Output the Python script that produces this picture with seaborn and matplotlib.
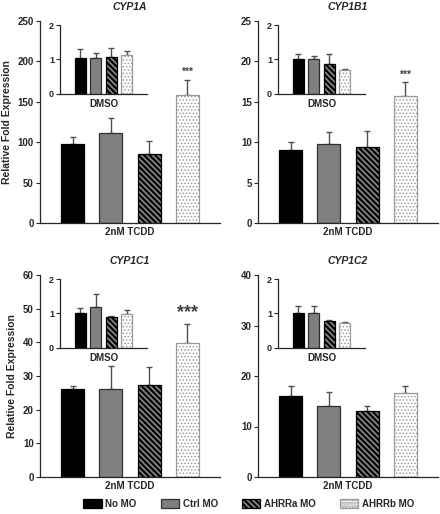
import matplotlib
matplotlib.use('Agg')
import matplotlib.pyplot as plt
from matplotlib.patches import Patch
import numpy as np
import pandas as pd
import seaborn as sns

sns.set_style('ticks')
plt.rcParams['font.family'] = ['Liberation Sans', 'DejaVu Sans']
plt.rcParams['font.weight'] = 'bold'
plt.rcParams['hatch.linewidth'] = 1.6

groups = ['No MO', 'Ctrl MO', 'AHRRa MO', 'AHRRb MO']
genes = ['CYP1A', 'CYP1B1', 'CYP1C1', 'CYP1C2']

# 2nM TCDD, mean and upper error
tcdd_cyp1a = [98, 111, 85, 158]
tcdd_cyp1a_err = [9, 19, 16, 19]
tcdd_cyp1b1 = [9.0, 9.8, 9.45, 15.7]
tcdd_cyp1b1_err = [1.0, 1.5, 1.95, 1.7]
tcdd_cyp1c1 = [26.2, 26.0, 27.2, 39.9]
tcdd_cyp1c1_err = [0.7, 7.1, 5.6, 5.5]
tcdd_cyp1c2 = [16.1, 14.0, 13.0, 16.6]
tcdd_cyp1c2_err = [2.0, 2.8, 1.1, 1.5]

# DMSO
dmso_cyp1a = [1.03, 1.03, 1.08, 1.12]
dmso_cyp1a_err = [0.27, 0.15, 0.24, 0.11]
dmso_cyp1b1 = [1.0, 1.0, 0.87, 0.69]
dmso_cyp1b1_err = [0.15, 0.09, 0.28, 0.04]
dmso_cyp1c1 = [1.02, 1.19, 0.89, 0.99]
dmso_cyp1c1_err = [0.15, 0.37, 0.04, 0.10]
dmso_cyp1c2 = [1.0, 1.0, 0.79, 0.71]
dmso_cyp1c2_err = [0.22, 0.21, 0.02, 0.05]

ymax = [250, 25, 60, 40]
ystep = [50, 5, 10, 10]
stars = ['***', '***', '***', '']
star_size = [7.5, 7.5, 13, 7]

tcdd = [tcdd_cyp1a, tcdd_cyp1b1, tcdd_cyp1c1, tcdd_cyp1c2]
tcdd_err = [tcdd_cyp1a_err, tcdd_cyp1b1_err, tcdd_cyp1c1_err, tcdd_cyp1c2_err]
dmso = [dmso_cyp1a, dmso_cyp1b1, dmso_cyp1c1, dmso_cyp1c2]
dmso_err = [dmso_cyp1a_err, dmso_cyp1b1_err, dmso_cyp1c1_err, dmso_cyp1c2_err]

faces = ['black', '#808080', '#8a8a8a', 'white']
edges = ['black', '#303030', 'black', '#9a9a9a']
hatches = ['', '', '\\\\\\\\\\\\', '.....']
hatch_lw = [1, 1, 1.6, 0.7]
err_col = '#505050'


def style_patch(p, ec, h, hlw):
    p.set_edgecolor(ec)
    p.set_linewidth(0.9)
    p.set_hatch(h)
    if hasattr(p, 'set_hatch_linewidth'):
        p.set_hatch_linewidth(hlw)


def draw_bars(ax, vals, errs, width, fs):
    d = pd.DataFrame({'group': groups, 'val': vals})
    sns.barplot(data=d, x='group', y='val', hue='group', palette=faces,
                width=width, legend=False, ax=ax, saturation=1)
    for p, ec, h, hl in zip(ax.patches, edges, hatches, hatch_lw):
        style_patch(p, ec, h, hl)
    ax.errorbar(range(4), vals, yerr=[np.zeros(4), errs], fmt='none',
                ecolor=err_col, elinewidth=1, capsize=2, capthick=1, zorder=0.5)
    sns.despine(ax=ax)
    ax.tick_params(axis='x', length=0)
    ax.set_xticks([])
    ax.tick_params(axis='y', length=3, width=0.8, labelsize=fs, pad=1.5)
    for s in ['left', 'bottom']:
        ax.spines[s].set_linewidth(0.9)
    ax.set_ylabel('')


fig = plt.figure(figsize=(4.4, 5.14), dpi=100)
W, H = 440, 514
boxes = [(40, 21), (258, 21), (40, 275), (258, 275)]

for i, g in enumerate(genes):
    x0, y0 = boxes[i]
    ax = fig.add_axes([x0 / W, 1 - (y0 + 202) / H, 180 / W, 202 / H])
    draw_bars(ax, tcdd[i], tcdd_err[i], 0.6, 7)
    ax.set_xlim(-0.85, 3.85)
    ax.set_ylim(0, ymax[i])
    ax.set_yticks(np.arange(0, ymax[i] + 1, ystep[i]))
    ax.set_xlabel('2nM TCDD', fontsize=7, fontweight='bold', labelpad=3)
    ax.set_title(g, fontsize=7.5, fontweight='bold', style='italic', pad=8)
    if i % 2 == 0:
        ax.set_ylabel('Relative Fold Expression', fontsize=7.5, fontweight='bold', labelpad=4)
    if stars[i]:
        top = tcdd[i][3] + tcdd_err[i][3]
        ax.text(3, top + ymax[i] * 0.015, stars[i], ha='center', va='bottom',
                fontsize=star_size[i], color='#404040')

    ins = ax.inset_axes([0.113, 0.64, 0.48, 0.34])
    draw_bars(ins, dmso[i], dmso_err[i], 0.72, 6.5)
    ins.set_xlim(-1.3, 4.3)
    ins.set_ylim(0, 2)
    ins.set_yticks([0, 1, 2])
    ins.set_xlabel('DMSO', fontsize=7, fontweight='bold', labelpad=4)
    ins.patch.set_alpha(0)

handles = []
for f, e, h, hl in zip(faces, edges, hatches, hatch_lw):
    hp = Patch(facecolor=f)
    style_patch(hp, e, h, hl)
    handles.append(hp)
fig.legend(handles, groups, loc='center', bbox_to_anchor=(0.565, 0.02), ncol=4,
           frameon=False, fontsize=7, handlelength=1.9, handleheight=1.15,
           handletextpad=0.35, columnspacing=2.5, borderpad=0)

fig.savefig('out.png', dpi=100)
